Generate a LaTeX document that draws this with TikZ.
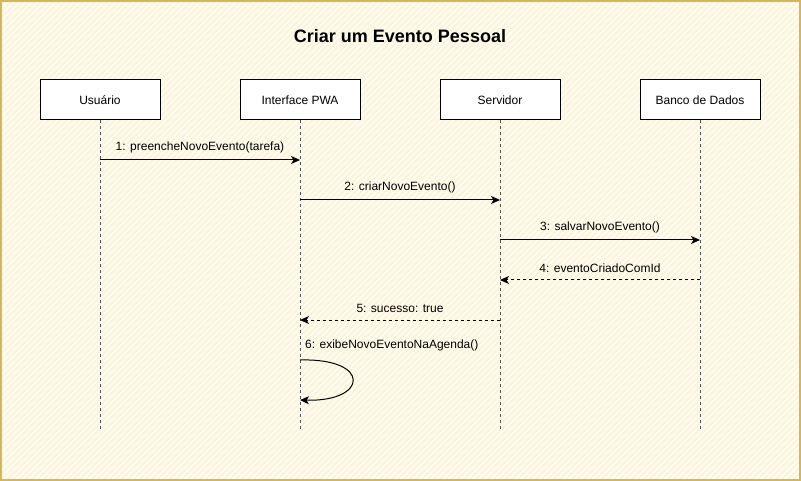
\documentclass[tikz,border=0pt]{standalone}
\usepackage{fontspec}
\setmainfont{Liberation Sans}
\usetikzlibrary{arrows.meta,positioning,calc}
\definecolor{borda}{HTML}{D6B656}
\definecolor{fundo}{HTML}{FFFDF5}
\definecolor{hachura}{HTML}{FFF2CC}
\definecolor{vidacor}{HTML}{555555}

\begin{document}
\begin{tikzpicture}[x=1pt,y=-1pt,
  ator/.style={draw,fill=white,minimum width=120pt,minimum height=40pt,font=\fontsize{12}{14}\selectfont,line width=1pt},
  vida/.style={vidacor,dash pattern=on 3pt off 3pt,line width=1pt},
  msg/.style={-{Stealth[length=9pt,width=8pt,inset=2.5pt]},line width=1pt},
  ret/.style={msg,dash pattern=on 3pt off 3pt},
  rotulo/.style={font=\fontsize{12}{14}\selectfont,inner sep=1pt}]
  % fundo e moldura
  \fill[fundo] (0,0) rectangle (801,481);
  \begin{scope}
    \clip (0,0) rectangle (801,481);
    \foreach \k in {-480,-474,...,800}
      \draw[hachura,line width=1.6pt] (\k,481) -- (\k+481,0);
  \end{scope}
  \draw[borda,line width=1.5pt] (1,1) rectangle (800,480);

  \node[font=\bfseries\fontsize{18}{21}\selectfont] (titulo) at (400,36) {Criar um Evento Pessoal};

  % participantes e linhas de vida
  \foreach \nome/\x/\txt in {usuario/100/{Usuário},
                             pwa/300/{Interface PWA},
                             servidor/500/{Servidor},
                             banco/700/{Banco de Dados}}{
    \coordinate (\nome-fim) at (\x,430);
    \draw[vida] (\x,120) -- (\nome-fim);
    \node[ator] (\nome) at (\x,100) {\txt};
  }

  % mensagens
  \draw[msg] (usuario |- 0,160) -- (pwa |- 0,160) node[rotulo,midway,above=6pt] {1: preencheNovoEvento(tarefa)};
  \draw[msg] (pwa |- 0,200) -- (servidor |- 0,200) node[rotulo,midway,above=6pt] {2: criarNovoEvento()};
  \draw[msg] (servidor |- 0,240) -- (banco |- 0,240) node[rotulo,midway,above=6pt] {3: salvarNovoEvento()};
  \draw[ret] (banco |- 0,280) -- (servidor |- 0,280) node[rotulo,midway,above=6pt] {4: eventoCriadoComId};
  \draw[ret] (servidor |- 0,320) -- (pwa |- 0,320) node[rotulo,midway,above=6pt] {5: sucesso: true};

  % auto-mensagem
  \coordinate (auto-ini) at (pwa |- 0,360);
  \coordinate (auto-fim) at (pwa |- 0,400);
  \node[rotulo,anchor=south west] (auto-txt) at ($(auto-ini)+(4,-8)$) {6: exibeNovoEventoNaAgenda()};
  \draw[msg] (auto-ini) .. controls (372,358) and (368,402) .. (auto-fim);
\end{tikzpicture}
\end{document}
